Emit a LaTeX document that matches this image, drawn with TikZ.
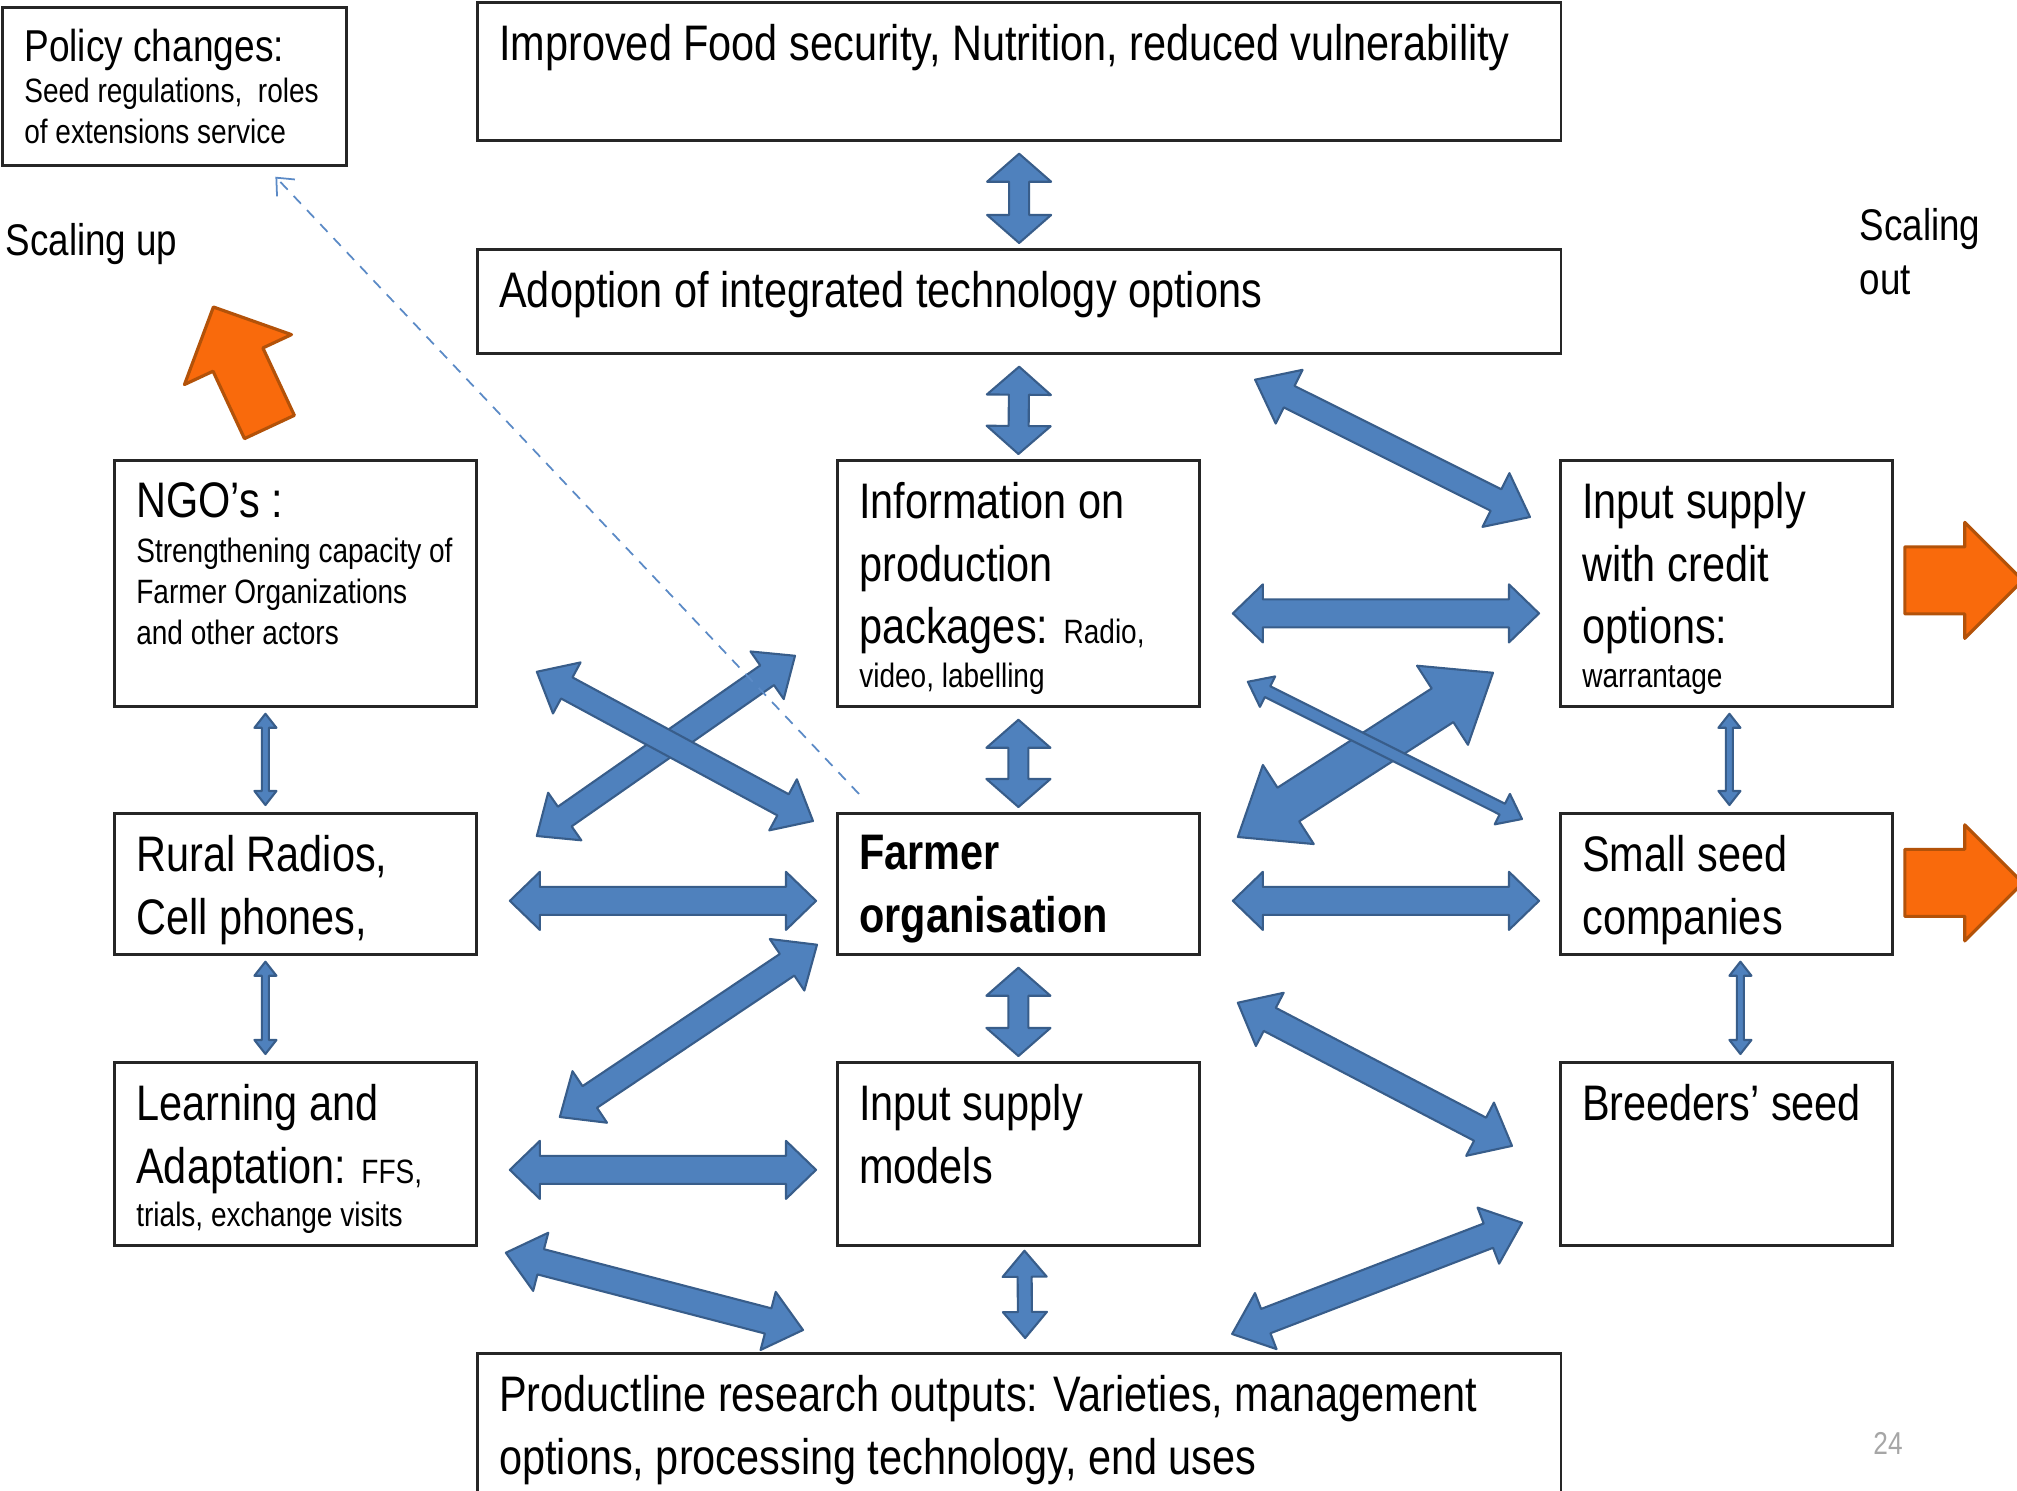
\documentclass[tikz,border=0pt]{standalone}
\usepackage{fontspec}
\setmainfont{Liberation Sans}[FakeStretch=0.83]
\usetikzlibrary{calc,arrows.meta}

\definecolor{boxline}{HTML}{262626}
\definecolor{fillblue}{HTML}{4F81BD}
\definecolor{lineblue}{HTML}{385D8A}
\definecolor{dashblue}{HTML}{5B8AC6}
\definecolor{fillorange}{HTML}{F96A0C}
\definecolor{lineorange}{HTML}{B35209}

\newcommand{\bigtxt}{\fontsize{14.2pt}{17.8pt}\selectfont}
\newcommand{\smalltxt}{\fontsize{9.6pt}{11.7pt}\selectfont}
\newcommand{\headtxt}{\fontsize{12.7pt}{15pt}\selectfont}
% text of a box: width, height, lines
\newcommand{\boxtext}[3]{\hspace*{0.22cm}\parbox[t][#2][t]{#1}{\vspace*{0.22cm}\raggedright #3}\hspace*{0.05cm}}
% block arrows: style, end, end, half shaft, half head, head length
\newcommand{\bothways}[6]{%
  \coordinate (dA) at #2; \coordinate (dB) at #3;
  \coordinate (dP) at ($(dA)!#6!(dB)$);
  \coordinate (dQ) at ($(dB)!#6!(dA)$);
  \filldraw[#1] (dA) -- ($(dP)!#5!90:(dB)$) -- ($(dP)!#4!90:(dB)$)
    -- ($(dQ)!#4!-90:(dA)$) -- ($(dQ)!#5!-90:(dA)$) -- (dB)
    -- ($(dQ)!#5!90:(dA)$) -- ($(dQ)!#4!90:(dA)$)
    -- ($(dP)!#4!-90:(dB)$) -- ($(dP)!#5!-90:(dB)$) -- cycle;}
\newcommand{\oneway}[6]{%
  \coordinate (oT) at #2; \coordinate (oH) at #3;
  \coordinate (oP) at ($(oH)!#6!(oT)$);
  \filldraw[#1] (oH) -- ($(oP)!#5!90:(oT)$) -- ($(oP)!#4!90:(oT)$)
    -- ($(oT)!#4!-90:(oH)$) -- ($(oT)!#4!90:(oH)$)
    -- ($(oP)!#4!-90:(oT)$) -- ($(oP)!#5!-90:(oT)$) -- cycle;}

\tikzset{
  box/.style  = {draw=boxline, line width=0.75pt, fill=white, anchor=north west, inner sep=0pt},
  link/.style = {fill=fillblue, draw=lineblue, line width=0.6pt, line join=round},
  push/.style = {fill=fillorange, draw=lineorange, line width=0.9pt, line join=round},
  hint/.style = {draw=dashblue, line width=0.5pt, dash pattern=on 3pt off 2.5pt,
                 -{Straight Barb[length=4pt,width=7pt]}},
  note/.style = {anchor=west, inner sep=0pt, align=left,
                 font=\fontsize{12.6pt}{15.4pt}\selectfont}
}

\begin{document}
\begin{tikzpicture}[x=0.01cm, y=-0.01cm]
  \useasboundingbox (0,0) rectangle (2017,1491);

  % middle column
  \node[box] (imp) at (476,1) {\boxtext{10.56cm}{1.38cm}{\bigtxt
    Improved Food security, Nutrition, reduced vulnerability}};
  \node[box] (adopt) at (476,248) {\boxtext{10.56cm}{1.04cm}{\bigtxt
    Adoption of integrated technology options}};
  \node[box] (info) at (836,459) {\boxtext{3.35cm}{2.46cm}{\bigtxt
    Information on\\ production\\ packages: {\smalltxt Radio,}\\[-0.19cm] {\smalltxt video, labelling}}};
  \node[box] (farmer) at (836,812) {\boxtext{3.35cm}{1.41cm}{\bigtxt\bfseries
    Farmer\\ organisation}};
  \node[box] (models) at (836,1061) {\boxtext{3.35cm}{1.83cm}{\bigtxt
    Input supply\\ models}};
  \node[box] (research) at (476,1352) {\boxtext{10.56cm}{1.60cm}{\bigtxt
    Productline research outputs: Varieties, management\\ options, processing technology, end uses}};

  % left column
  \node[box] (policy) at (1,6) {\boxtext{3.17cm}{1.58cm}{\smalltxt
    {\headtxt Policy changes:}\\ Seed regulations,\ \ roles\\ of extensions service}};
  \node[box] (ngo) at (113,459) {\boxtext{3.35cm}{2.46cm}{\smalltxt
    {\bigtxt NGO's :}\\[0.04cm] Strengthening capacity of\\ Farmer Organizations\\ and other actors}};
  \node[box] (radio) at (113,812) {\boxtext{3.35cm}{1.41cm}{\bigtxt
    Rural Radios,\\ Cell phones,}};
  \node[box] (learn) at (113,1061) {\boxtext{3.35cm}{1.83cm}{\bigtxt
    Learning and\\ Adaptation: {\smalltxt FFS,}\\[-0.19cm] {\smalltxt trials, exchange visits}}};

  % right column
  \node[box] (credit) at (1559,459) {\boxtext{3.05cm}{2.46cm}{\bigtxt
    Input supply\\ with credit\\ options:\\[-0.19cm] {\smalltxt warrantage}}};
  \node[box] (seedco) at (1559,812) {\boxtext{3.05cm}{1.41cm}{\bigtxt
    Small seed\\ companies}};
  \node[box] (breeders) at (1559,1061) {\boxtext{3.05cm}{1.83cm}{\bigtxt
    Breeders' seed}};

  % labels
  \node[note] (up) at (5,244) {Scaling up};
  \node[note] (out) at (1859,252) {Scaling\\ out};
  \node[text=gray!70, font=\fontsize{9pt}{10pt}\selectfont] (pagenum) at (1888,1443) {24};

  % scaling arrows
  \oneway{push}{($(ngo.north)+(-26,-32)$)}{($(ngo.north)+(-82,-152)$)}{0.275cm}{0.59cm}{0.58cm}
  \oneway{push}{($(credit.east)+(11,-3)$)}{($(credit.east)+(129,-3)$)}{0.335cm}{0.58cm}{0.58cm}
  \oneway{push}{($(seedco.east)+(11,-1)$)}{($(seedco.east)+(129,-1)$)}{0.335cm}{0.58cm}{0.58cm}

  % vertical links
  \foreach \a/\b in {imp/adopt, adopt/info, info/farmer, farmer/models}
    {\bothways{link}{($(\a.south)+(0,12)$)}{($(\b.north)+(0,-5)$)}{0.1cm}{0.32cm}{0.28cm}}
  \bothways{link}{($(models.south)+(6,4)$)}{($(research.north)+(6,-14)$)}{0.07cm}{0.22cm}{0.26cm}
  \foreach \a/\b/\s in {ngo/radio/-30, radio/learn/-30, credit/seedco/3, seedco/breeders/14}
    {\bothways{link}{($(\a.south)+(\s,6)$)}{($(\b.north)+(\s,-7)$)}{0.035cm}{0.11cm}{0.14cm}}

  % horizontal links
  \foreach \a/\b/\s in {info/credit/30, radio/farmer/17, farmer/seedco/17, learn/models/16}
    {\bothways{link}{($(\a.east)+(32,\s)$)}{($(\b.west)+(-20,\s)$)}{0.14cm}{0.29cm}{0.30cm}}

  % diagonal links
  \bothways{link}{($(adopt.south)+(236,25)$)}{($(credit.north west)+(-29,58)$)}{0.12cm}{0.30cm}{0.38cm}
  \bothways{link}{($(radio.north east)+(59,24)$)}{($(info.south west)+(-41,-52)$)}{0.12cm}{0.29cm}{0.34cm}
  \bothways{link}{($(ngo.south east)+(59,-36)$)}{($(farmer.north west)+(-23,9)$)}{0.12cm}{0.29cm}{0.34cm}
  \bothways{link}{($(farmer.north east)+(37,25)$)}{($(credit.south west)+(-66,-35)$)}{0.2cm}{0.47cm}{0.6cm}
  \bothways{link}{($(info.south east)+(47,-26)$)}{($(seedco.north west)+(-37,7)$)}{0.06cm}{0.17cm}{0.22cm}
  \bothways{link}{($(farmer.south west)+(-19,-11)$)}{($(learn.north east)+(82,56)$)}{0.13cm}{0.31cm}{0.36cm}
  \bothways{link}{($(farmer.south east)+(37,47)$)}{($(breeders.west)+(-47,-8)$)}{0.13cm}{0.30cm}{0.36cm}
  \bothways{link}{($(learn.south east)+(28,6)$)}{($(research.north west)+(327,-22)$)}{0.13cm}{0.30cm}{0.36cm}
  \bothways{link}{($(breeders.south west)+(-37,-24)$)}{($(research.north)+(213,-18)$)}{0.13cm}{0.30cm}{0.36cm}

  % policy feedback
  \draw[hint] ($(farmer.north west)+(23,-18)$) -- ($(policy.south)+(101,10)$);
\end{tikzpicture}
\end{document}
